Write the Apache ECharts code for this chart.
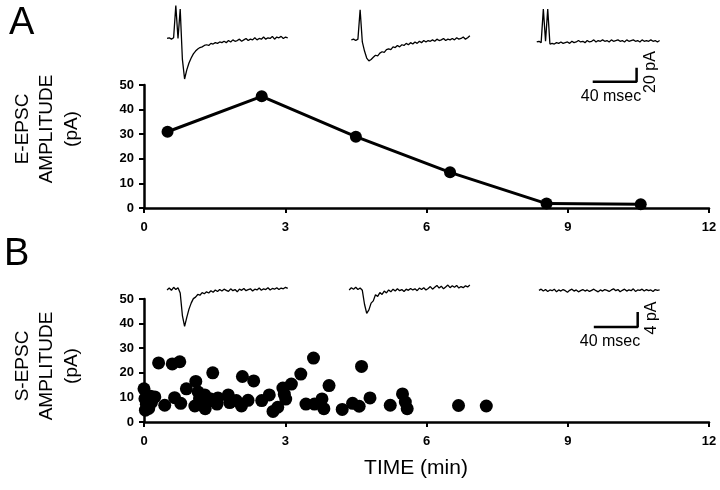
<!DOCTYPE html>
<html><head><meta charset="utf-8">
<script src="https://cdn.jsdelivr.net/npm/echarts@6/dist/echarts.min.js"></script>
<style>html,body{margin:0;padding:0;background:#fff}#c{width:720px;height:490px}</style>
</head><body><div id="c"></div>
<script>
// ---------- data ----------
const timeTicks = [0, 3, 6, 9, 12];          // min
const ampTicks = [0, 10, 20, 30, 40, 50];    // pA

// Panel A: evoked EPSC amplitude (min, pA)
const evokedTime = [0.5, 2.5, 4.5, 6.5, 8.55, 10.55];
const evokedAmp  = [31, 45.4, 29, 14.5, 1.8, 1.5];

// Panel B: spontaneous EPSC amplitude (min, pA)
const spontTime = [0.0, 0.02, 0.03, 0.05, 0.1, 0.14, 0.16, 0.23, 0.31, 0.44, 0.6, 0.65, 0.76, 0.78, 0.9,
  1.08, 1.1, 1.15, 1.18, 1.2, 1.22, 1.29, 1.3, 1.35, 1.4, 1.46, 1.55, 1.57, 1.79, 1.82, 1.96,
  2.07, 2.09, 2.21, 2.33, 2.5, 2.66, 2.74, 2.84, 2.95, 2.98, 3.01, 3.13, 3.33, 3.44, 3.6, 3.62,
  3.78, 3.82, 3.93, 4.21, 4.43, 4.57, 4.62, 4.8, 5.23, 5.49, 5.55, 5.59, 6.68, 7.27];
const spontAmp = [13.5, 9.5, 4.8, 7.2, 5.5, 10.5, 8.0, 10.2, 24.0, 6.8, 23.6, 9.9, 24.5, 7.6, 13.5,
  6.5, 16.5, 12.2, 9.3, 7.0, 10.5, 11.0, 5.4, 8.2, 9.5, 20.0, 7.3, 9.8, 11.0, 7.9, 8.7,
  6.5, 18.5, 8.8, 16.7, 8.7, 11.0, 4.3, 6.0, 13.8, 11.3, 9.3, 15.4, 19.5, 7.3, 26.0, 7.3,
  9.4, 5.4, 14.8, 5.1, 7.6, 6.4, 22.6, 9.8, 6.8, 11.4, 8.1, 5.4, 6.7, 6.5];

// Example current traces (pA), one sample every traceStep ms
const traceStep = 2;
const traceA1Start = 21, traceA2Start = 189, traceA3Start = 358;
const traceA1 = [0, 1, -1, 1, 47, 0, 42, -30, -58, -45, -35, -28, -22, -18, -15, -13, -12, -10, -9, -10,
  -7, -8, -6, -7, -5, -6, -4, -6, -3, -5, -2, -4, -3, -1, -4, -2, 0, -3, -1, -2, 1, -2, 0, -1, 2, -1, 1, 0,
  3, -1, 2, 1, 3, 0, 2, 1];
const traceA2 = [-2, -1, -3, -1, 41, -5, -18, -28, -32, -30, -27, -24, -25, -21, -19, -20, -16, -15, -16,
  -12, -13, -10, -12, -9, -10, -7, -9, -6, -8, -5, -7, -4, -6, -3, -5, -3, -4, -2, -4, -1, -3, -2, 0, -3,
  -1, -2, 0, -2, 1, -1, 0, 2, -1, 1, 4];
const traceA3 = [-5, -4, -6, 42, -4, 42, -8, -7, -8, -6, -7, -5, -7, -6, -5, -7, -4, -6, -5, -3, -5, -4,
  -6, -3, -5, -4, -2, -5, -3, -4, -2, -4, -3, -5, -2, -4, -3, -2, -4, -3, -5, -2, -4, -3, -2, -4, -3, -5,
  -2, -4, -3, -4, -2, -4, -3, -5, -3];
const traceB1Start = 21, traceB2Start = 187, traceB3Start = 360;
const traceB1 = [0.3, 0.8, 0.2, 1.0, 0.4, 0.9, -0.5, -6.5, -9.4, -7.0, -4.8, -3.2, -2.0, -1.6, -0.9, -1.1,
  -0.4, -0.7, -0.2, -0.5, 0.1, -0.3, 0.3, -0.1, 0.4, 0.0, 0.5, 0.2, -0.1, 0.6, 0.1, 0.4, -0.2, 0.5, 0.2,
  0.7, 0.1, 0.4, 0.6, 0.0, 0.5, 0.3, 0.8, 0.2, 0.6, 0.4, 0.9, 0.3, 0.7, 0.5, 0.9, 0.4, 0.8, 0.6, 1.0, 0.7];
const traceB2 = [0.3, 0.9, 0.5, 1.0, 0.4, 0.8, 0.2, -3.5, -5.9, -5.0, -3.2, -2.6, -1.0, -1.4, -0.4, -0.9,
  0.0, -0.5, 0.3, -0.2, 0.5, 0.0, 0.6, 0.1, 0.4, -0.1, 0.5, 0.2, 0.7, 0.3, 0.6, 0.1, 0.8, 0.4, 0.9, 0.3,
  0.7, 1.2, 0.5, 1.0, 1.5, 0.8, 1.3, 0.6, 1.1, 1.6, 0.9, 1.4, 1.0, 1.5, 0.8, 1.2, 0.9, 1.4, 1.1, 1.6];
const traceB3 = [0.2, 0.5, 0.0, 0.4, -0.1, 0.3, 0.1, 0.5, -0.2, 0.3, 0.0, 0.4, 0.1, -0.3, 0.2, 0.5, 0.0,
  0.3, -0.2, 0.1, 0.4, 0.0, 0.3, -0.1, 0.2, 0.5, 0.1, -0.2, 0.3, 0.0, 0.4, 0.2, -0.1, 0.3, 0.6, 0.1, 0.4,
  -0.2, 0.2, 0.5, 0.0, 0.3, 0.1, 0.6, -0.1, 0.3, 0.2, 0.5, 0.0, 0.4, 0.1, 0.3, -0.1, 0.4, 0.2, 0.3];

// Scale bars (ms, pA)
const scaleBarA = { ms: 40, pA: 20, t0: 409, v0: -62 };
const scaleBarB = { ms: 40, pA: 4, t0: 410, v0: -9.55 };

// ---------- chart ----------
const FONT = '"Liberation Sans", Arial, sans-serif';
const chart = echarts.init(document.getElementById('c'), null, { renderer: 'canvas' });

function tracePoints(start, arr) { return arr.map((v, i) => [start + i * traceStep, v]); }
function scaleBarPoints(b) { return [[b.t0, b.v0], [b.t0 + b.ms, b.v0], [b.t0 + b.ms, b.v0 + b.pA]]; }

function plotX(grid) {
  return {
    gridIndex: grid, type: 'value', min: timeTicks[0], max: timeTicks[timeTicks.length - 1], interval: 3,
    axisLine: { show: true, onZero: false, lineStyle: { color: '#000', width: 2.5 } },
    axisTick: { show: true, length: 5, lineStyle: { color: '#000', width: 2 } },
    axisLabel: { margin: 13, fontSize: 13, fontWeight: 'bold', color: '#000', fontFamily: FONT },
    splitLine: { show: false }
  };
}
function plotY(grid) {
  return {
    gridIndex: grid, type: 'value', min: ampTicks[0], max: ampTicks[ampTicks.length - 1], interval: 10,
    axisLine: { show: true, lineStyle: { color: '#000', width: 2.5 } },
    axisTick: { show: true, length: 5, lineStyle: { color: '#000', width: 2 } },
    axisLabel: { margin: 10, fontSize: 13, fontWeight: 'bold', color: '#000', fontFamily: FONT },
    splitLine: { show: false }
  };
}
function hiddenAxis(grid, min, max) {
  return { gridIndex: grid, type: 'value', min: min, max: max, show: false, splitLine: { show: false } };
}
const traceStyle = { color: '#000', width: 1.3 };
function traceSeries(grid, pts) {
  return { type: 'line', xAxisIndex: grid, yAxisIndex: grid, data: pts, showSymbol: false, symbol: 'none',
    lineStyle: traceStyle, clip: false, silent: true };
}
function barSeries(grid, pts) {
  return { type: 'line', xAxisIndex: grid, yAxisIndex: grid, data: pts, showSymbol: false, symbol: 'none',
    lineStyle: { color: '#000', width: 2.5 }, clip: false, silent: true };
}

const option = {
  animation: false,
  backgroundColor: '#fff',
  grid: [
    { left: 144, top: 85, width: 565, height: 123 },
    { left: 144, top: 299, width: 565, height: 123 },
    { left: 144, top: 0, width: 565, height: 100 },
    { left: 144, top: 270, width: 565, height: 70 }
  ],
  xAxis: [plotX(0), plotX(1), hiddenAxis(2, 0, 515), hiddenAxis(3, 0, 515)],
  yAxis: [plotY(0), plotY(1), hiddenAxis(2, -88, 55), hiddenAxis(3, -13, 5.6)],
  series: [
    { type: 'line', xAxisIndex: 0, yAxisIndex: 0,
      data: evokedTime.map((t, i) => [t, evokedAmp[i]]),
      symbol: 'circle', symbolSize: 12, itemStyle: { color: '#000' },
      lineStyle: { color: '#000', width: 3 }, clip: false },
    { type: 'scatter', xAxisIndex: 1, yAxisIndex: 1,
      data: spontTime.map((t, i) => [t, spontAmp[i]]),
      symbol: 'circle', symbolSize: 13, itemStyle: { color: '#000', opacity: 1 }, clip: false },
    traceSeries(2, tracePoints(traceA1Start, traceA1)),
    traceSeries(2, tracePoints(traceA2Start, traceA2)),
    traceSeries(2, tracePoints(traceA3Start, traceA3)),
    barSeries(2, scaleBarPoints(scaleBarA)),
    traceSeries(3, tracePoints(traceB1Start, traceB1)),
    traceSeries(3, tracePoints(traceB2Start, traceB2)),
    traceSeries(3, tracePoints(traceB3Start, traceB3)),
    barSeries(3, scaleBarPoints(scaleBarB))
  ],
  graphic: [
    { type: 'text', left: 9, top: 5, style: { text: 'A', font: '38px ' + FONT, fill: '#000' } },
    { type: 'text', left: 4, top: 236, style: { text: 'B', font: '38px ' + FONT, fill: '#000' } },
    { type: 'text', x: 47, y: 129, rotation: Math.PI / 2,
      style: { text: 'E-EPSC\nAMPLITUDE\n(pA)', font: '19px ' + FONT, fill: '#000', align: 'center',
        verticalAlign: 'middle', lineHeight: 24.5 } },
    { type: 'text', x: 47, y: 366, rotation: Math.PI / 2,
      style: { text: 'S-EPSC\nAMPLITUDE\n(pA)', font: '19px ' + FONT, fill: '#000', align: 'center',
        verticalAlign: 'middle', lineHeight: 24.5 } },
    { type: 'text', x: 416, y: 468, style: { text: 'TIME (min)', font: '21px ' + FONT, fill: '#000',
        align: 'center', verticalAlign: 'middle' } },
    { type: 'text', x: 611, y: 97, style: { text: '40 msec', font: '16px ' + FONT, fill: '#000',
        align: 'center', verticalAlign: 'middle' } },
    { type: 'text', x: 651, y: 72, rotation: Math.PI / 2, style: { text: '20 pA', font: '16px ' + FONT,
        fill: '#000', align: 'center', verticalAlign: 'middle' } },
    { type: 'text', x: 610, y: 342, style: { text: '40 msec', font: '16px ' + FONT, fill: '#000',
        align: 'center', verticalAlign: 'middle' } },
    { type: 'text', x: 652, y: 318, rotation: Math.PI / 2, style: { text: '4 pA', font: '16px ' + FONT,
        fill: '#000', align: 'center', verticalAlign: 'middle' } }
  ]
};
chart.setOption(option);
</script></body></html>
